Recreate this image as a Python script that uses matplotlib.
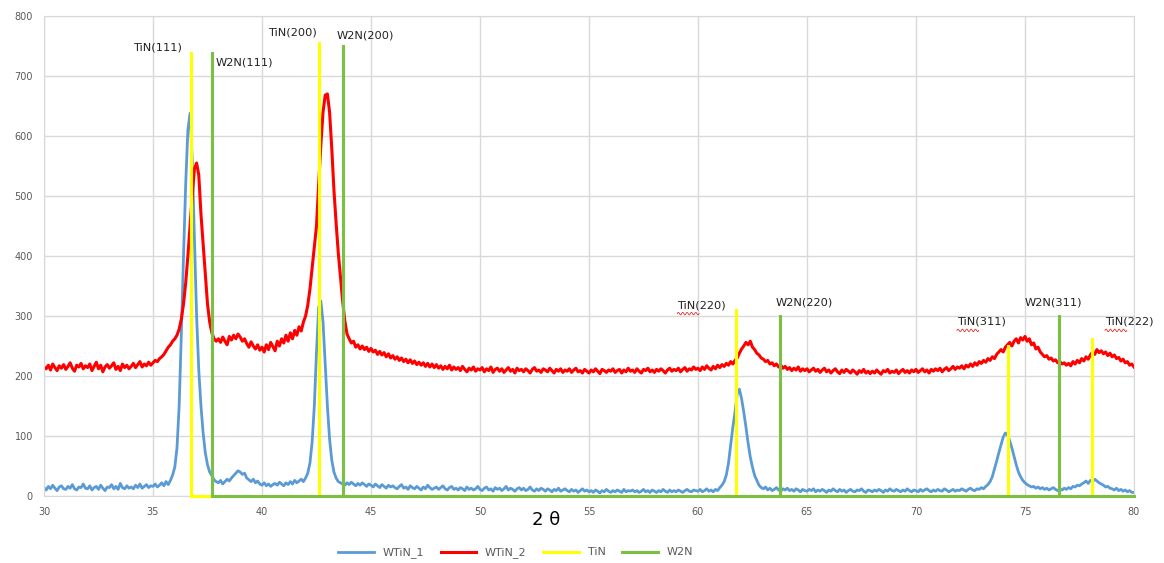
import numpy as np
import matplotlib
matplotlib.use("Agg")
import matplotlib.pyplot as plt

# 2-theta scan, 0.1 deg step from 30 to 80
two_theta = np.linspace(30, 80, 501)

wtin_1 = [
    14, 10, 16, 12, 18, 13, 9, 15, 17, 12,
    11, 16, 13, 19, 12, 10, 15, 14, 20, 13,
    12, 17, 10, 14, 16, 11, 18, 13, 9, 15,
    14, 19, 12, 16, 11, 21, 14, 12, 17, 13,
    15, 12, 18, 14, 20, 13, 16, 19, 14, 17,
    16, 20, 15, 18, 22, 17, 24, 19, 26, 35,
    48, 80, 150, 270, 400, 520, 610, 638, 560, 430,
    300, 210, 150, 105, 72, 52, 40, 34, 27, 24,
    22, 26, 20, 24, 28, 25, 30, 34, 38, 42,
    40, 36, 38, 30, 27, 24, 28, 22, 25, 20,
    18, 22, 17, 20, 16, 19, 21, 18, 23, 20,
    17, 22, 19, 24, 20, 26, 22, 25, 28, 24,
    30, 38, 55, 90, 150, 240, 315, 325, 290, 220,
    150, 95, 60, 40, 30, 24, 22, 20, 18, 22,
    19, 23, 20, 17, 21, 18, 22, 19, 16, 20,
    18, 15, 20, 17, 14, 19, 16, 13, 18, 15,
    17, 14, 12, 16, 19, 13, 15, 11, 17, 14,
    12, 16, 13, 10, 15, 12, 18, 14, 11, 13,
    15, 11, 14, 17, 12, 10, 14, 16, 11, 13,
    10, 14, 12, 9, 15, 11, 13, 10, 12, 16,
    11, 9, 13, 15, 10, 12, 8, 14, 11, 13,
    9, 12, 16, 10, 13, 11, 8, 12, 14, 10,
    13, 9, 11, 15, 10, 8, 12, 9, 13, 11,
    8, 12, 10, 7, 11, 9, 13, 8, 10, 12,
    9, 7, 11, 8, 10, 6, 9, 12, 8, 10,
    7, 9, 6, 10, 8, 5, 9, 7, 11, 8,
    6, 9, 7, 10, 8, 6, 11, 7, 9, 8,
    10, 7, 9, 6, 8, 11, 7, 9, 6, 10,
    8, 6, 9, 7, 11, 8, 6, 10, 7, 9,
    7, 10, 8, 6, 9, 11, 8, 7, 10, 9,
    8, 11, 7, 9, 12, 8, 10, 7, 11, 9,
    14, 18, 24, 35, 55, 85, 115, 140, 170, 178,
    162, 140, 115, 88, 65, 48, 34, 26, 18, 14,
    12, 15, 10, 13, 9, 11, 14, 10, 8, 12,
    10, 13, 9, 11, 8, 12, 10, 7, 11, 9,
    8, 11, 9, 12, 7, 10, 8, 11, 9, 6,
    10, 8, 12, 9, 7, 11, 8, 10, 6, 9,
    11, 8, 7, 10, 9, 12, 8, 6, 10, 9,
    7, 10, 8, 11, 9, 6, 10, 8, 12, 9,
    8, 11, 9, 7, 10, 8, 12, 9, 7, 10,
    9, 7, 11, 8, 10, 12, 9, 7, 10, 8,
    11, 9, 8, 12, 10, 7, 9, 11, 8, 10,
    9, 12, 10, 8, 11, 13, 10, 9, 12, 11,
    14, 12, 16, 19, 24, 32, 45, 58, 72, 85,
    98, 105, 102, 92, 80, 66, 52, 40, 32, 26,
    22, 19, 17, 15, 16, 13, 15, 12, 14, 11,
    13, 10, 12, 14, 11, 9, 12, 10, 13, 11,
    14, 12, 16, 15, 18, 17, 20, 22, 25, 21,
    26, 24, 28, 25, 22, 20, 18, 15, 16, 13,
    12, 10, 13, 9, 11, 8, 10, 7, 9, 6,
    6,
]

wtin_2 = [
    215, 212, 218, 210, 220, 214, 209, 217, 213, 219,
    211, 216, 222, 213, 208, 218, 215, 221, 212, 217,
    214, 220, 209, 216, 223, 212, 218, 207, 215, 219,
    213, 217, 222, 211, 216, 209, 220, 214, 218, 212,
    216, 221, 214, 219, 224, 215, 220, 217, 223, 218,
    222, 226, 224, 229, 232, 236, 242, 248, 252, 258,
    262, 268, 278, 295, 320, 355, 400, 450, 500, 545,
    555, 535, 470, 420, 370, 320, 290, 272, 262, 258,
    262, 256, 265, 258, 252, 266, 260, 268, 262, 270,
    265, 258, 262, 254, 248, 257, 250, 245, 252, 243,
    248, 240, 252, 244, 256, 249, 242, 258, 250, 262,
    255, 268, 258, 272, 262, 276, 268, 282, 275, 290,
    300, 318, 345, 380, 415, 450, 520, 585, 640, 668,
    670, 640, 580, 510, 455, 405, 365, 325, 292, 270,
    262, 255, 258, 248, 252, 245, 250, 244, 248, 241,
    246, 240, 243, 236, 241, 235, 239, 232, 237, 230,
    234, 228, 232, 226, 230, 224, 228, 222, 227, 221,
    225, 219, 223, 218, 222, 216, 221, 215, 220, 214,
    219, 213, 217, 211, 216, 212, 218, 210, 215, 211,
    214, 209, 216, 211, 207, 213, 210, 215, 208, 212,
    210, 214, 207, 212, 209, 215, 206, 211, 213, 208,
    212, 206, 210, 214, 208, 211, 205, 213, 209, 211,
    207, 212, 209, 205, 211, 214, 208, 210, 206, 212,
    210, 207, 213, 209, 205, 211, 208, 212, 206, 210,
    208, 212, 206, 210, 213, 207, 209, 205, 211, 208,
    205, 210, 207, 212, 208, 204, 211, 209, 206, 210,
    208, 212, 206, 209, 211, 205, 210, 207, 213, 208,
    210, 206, 212, 208, 205, 211, 209, 213, 207, 210,
    206, 211, 208, 212, 209, 205, 210, 213, 208, 211,
    209, 213, 207, 211, 214, 208, 212, 210, 215, 211,
    213, 209, 215, 211, 217, 213, 210, 216, 212, 218,
    214, 219, 216, 221, 218, 224, 220, 226, 230, 238,
    245, 250, 256, 252, 258, 248, 244, 238, 235, 230,
    228, 224, 226, 220, 222, 217, 220, 215, 218, 213,
    216, 211, 214, 209, 213, 210, 215, 208, 212, 209,
    212, 207, 210, 213, 208, 211, 206, 210, 213, 207,
    210, 205, 209, 212, 207, 204, 210, 206, 211, 208,
    205, 210, 207, 203, 209, 206, 211, 205, 208, 204,
    208, 205, 210, 206, 203, 209, 207, 211, 205, 208,
    206, 210, 204, 208, 211, 206, 209, 205, 210, 207,
    211, 206, 209, 212, 207, 210, 205, 211, 208, 212,
    209, 213, 207, 211, 214, 209, 212, 216, 211, 215,
    213, 217, 212, 218, 215, 220, 216, 222, 218, 224,
    221, 226, 223, 229, 226, 232, 229, 236, 240, 244,
    240, 248, 252, 256, 250, 258, 262, 255, 264, 260,
    266, 258, 262, 252, 255, 245, 248, 240, 236, 232,
    234, 228, 230, 225, 227, 222, 224, 220, 222, 218,
    221, 217, 224, 220, 226, 222, 229, 225, 232, 228,
    235, 240, 236, 244, 239, 242, 237, 240, 234, 238,
    232, 235, 229, 231, 225, 228, 222, 224, 218, 220,
    215,
]

# reference reflections (position, stick height)
tin_pos = [36.74, 42.6, 61.73, 74.2, 78.07]
tin_h = [738, 755, 310, 250, 262]
w2n_pos = [37.7, 43.7, 63.76, 76.56]
w2n_h = [738, 750, 300, 300]

peak_labels = ["TiN(111)", "W2N(111)", "TiN(200)", "W2N(200)", "TiN(220)",
               "W2N(220)", "TiN(311)", "W2N(311)", "TiN(222)"]
label_x = [34.1, 37.89, 40.3, 43.44, 59.05, 63.58, 71.88, 75.0, 78.67]
label_y = [748, 722, 772, 767, 318, 322, 290, 322, 290]


def sticks(pos, h, end=80):
    xs, ys = [], []
    for p, v in zip(pos, h):
        xs += [p, p, p]
        ys += [0, v, 0]
    xs.append(end)
    ys.append(0)
    return xs, ys


fig = plt.figure(figsize=(11.64, 5.63), dpi=100)
ax = fig.add_axes([0.0378, 0.119, 0.9364, 0.8526])

ax.plot(two_theta, wtin_1, color="#5B9BD5", lw=2.0, label="WTiN_1")
ax.plot(two_theta, wtin_2, color="#FF0000", lw=2.2, label="WTiN_2")
tx, ty = sticks(tin_pos, tin_h)
ax.plot(tx, ty, color="#FFFF00", lw=2.2, label="TiN", clip_on=False, zorder=3)
wx, wy = sticks(w2n_pos, w2n_h)
ax.plot(wx, wy, color="#7CBF45", lw=2.2, label="W2N", clip_on=False, zorder=3)

for txt, x, y in zip(peak_labels, label_x, label_y):
    ax.text(x, y, txt, fontsize=8.2, color="#222222", ha="left", va="center",
            fontweight="medium")
    if txt in ("TiN(220)", "TiN(311)", "TiN(222)"):
        # spell-check squiggle under "TiN"
        wxs = np.linspace(x, x + 1.0, 30)
        wys = y - 14 + 2.2 * np.sin(np.linspace(0, 10 * np.pi, 30))
        ax.plot(wxs, wys, color="#E03030", lw=0.6, clip_on=False)

ax.set_xlim(30, 80)
ax.set_ylim(0, 800)
ax.set_xticks(range(30, 81, 5))
ax.set_yticks(range(0, 801, 100))
ax.grid(True, color="#D9D9D9", lw=1)
ax.set_axisbelow(True)
ax.tick_params(length=0, labelsize=7, colors="#595959", pad=8)
for s in ax.spines.values():
    s.set_color("#D9D9D9")

fig.text(546 / 1164, 1 - 520 / 563, "2 θ", fontsize=13, ha="center", va="center")
fig.legend(loc="center", bbox_to_anchor=(0.443, 0.018), ncol=4, frameon=False,
           fontsize=8, labelcolor="#595959", handlelength=3.2, columnspacing=1.5)

fig.savefig("out.png", dpi=100)
